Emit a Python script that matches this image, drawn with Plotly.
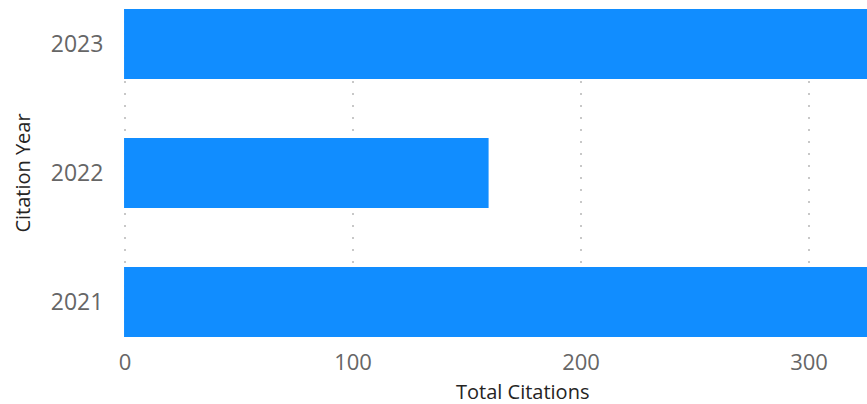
import plotly.graph_objects as go

years = ["2021", "2022", "2023"]
citations = [350, 159, 345]
x_ticks = [0, 100, 200, 300]

fig = go.Figure(go.Bar(
    x=citations, y=years, orientation="h",
    marker=dict(color="#118DFF", line=dict(width=2, color="#118DFF")),
))

fig.update_layout(
    width=867, height=404,
    margin=dict(l=123, r=0, t=9, b=67),
    paper_bgcolor="white", plot_bgcolor="white",
    bargap=0.473,
    showlegend=False,
    font=dict(family="Open Sans, sans-serif"),
    annotations=[dict(
        text="Total Citations", xref="paper", yref="paper",
        x=0.537, y=0, yshift=-54, xanchor="center", yanchor="middle",
        showarrow=False, font=dict(size=20, color="#252423"),
    )],
)
fig.update_xaxes(
    range=[-0.9, 325.4], tickvals=x_ticks,
    showgrid=True, gridcolor="#c8c8c8", gridwidth=2, griddash="2px,10px",
    zeroline=False, showline=False,
    tickfont=dict(size=22, color="#666666"),
    ticks="outside", ticklen=6, tickcolor="rgba(0,0,0,0)",
)
fig.update_yaxes(
    type="category", range=[-0.271, 2.271],
    showgrid=False, zeroline=False, showline=False,
    tickfont=dict(size=23, color="#666666"),
    ticks="outside", ticklen=14, tickcolor="rgba(0,0,0,0)",
    title=dict(text="Citation Year", font=dict(size=20, color="#252423"), standoff=14),
)

fig.write_html(
    "out.html",
    config={"displayModeBar": False},
    post_script="document.body.style.margin='0';document.body.style.overflow='hidden';",
)
